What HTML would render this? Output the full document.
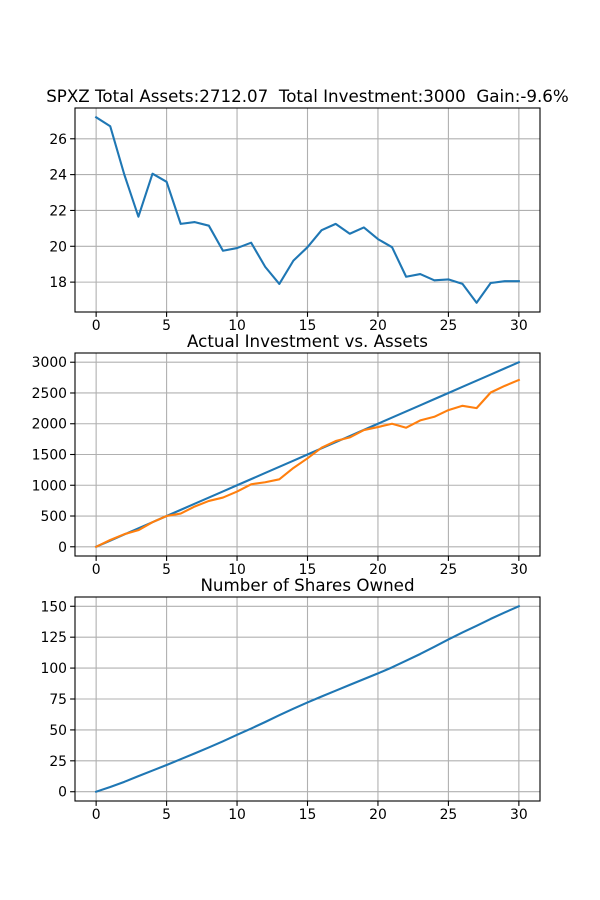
<!DOCTYPE html>
<html><head><meta charset="utf-8"><style>
body{margin:0;background:#fff}
svg{display:block;font-family:"DejaVu Sans","Liberation Sans",sans-serif}
</style></head><body>
<svg id="fig" width="600" height="900" viewBox="0 0 600 900" xmlns="http://www.w3.org/2000/svg"></svg>
<script>
const days = [0,1,2,3,4,5,6,7,8,9,10,11,12,13,14,15,16,17,18,19,20,21,22,23,24,25,26,27,28,29,30];
const price = [27.2,26.7,24.0,21.65,24.05,23.6,21.25,21.35,21.15,19.75,19.9,20.2,18.85,17.9,19.2,19.95,20.9,21.25,20.7,21.05,20.4,19.95,18.3,18.45,18.1,18.15,17.9,16.85,17.95,18.05,18.05];
const invested = [0,100,200,300,400,500,600,700,800,900,1000,1100,1200,1300,1400,1500,1600,1700,1800,1900,2000,2100,2200,2300,2400,2500,2600,2700,2800,2900,3000];
const assets = [0,110,205,270,400,500,540,655,745,800,897,1016,1049,1097,1281,1438,1611,1719,1778,1897,1946,2000,1935,2054,2113,2222,2292,2254,2508,2616,2712];
const shares = [0,3.8,8,12.6,17.1,21.6,26.3,31,35.8,40.8,46,51.1,56.4,61.9,67.2,72.2,77,81.7,86.4,91.1,95.7,100.6,106,111.4,117.2,123.2,128.8,134.2,139.8,145,150];
const xTicks = [0,5,10,15,20,25,30];
const y1Ticks = [18,20,22,24,26];
const y2Ticks = [0,500,1000,1500,2000,2500,3000];
const y3Ticks = [0,25,50,75,100,125,150];
const titles = ["SPXZ Total Assets:2712.07  Total Investment:3000  Gain:-9.6%","Actual Investment vs. Assets","Number of Shares Owned"];

const NS="http://www.w3.org/2000/svg";
const svg=document.getElementById('fig');
function mk(tag,attrs,parent){const e=document.createElementNS(NS,tag);for(const k in attrs)e.setAttribute(k,attrs[k]);(parent||svg).appendChild(e);return e;}
const L=75,R=540;
function lim(arrs){let mn=Infinity,mx=-Infinity;arrs.forEach(a=>a.forEach(v=>{mn=Math.min(mn,v);mx=Math.max(mx,v);}));const m=(mx-mn)*0.05;return [mn-m,mx+m];}
function axes(idx,top,bot,series,colors,yTicks,name){
  const g=mk('g',{});
  
  
  const [xmn,xmx]=lim([days]);
  const [ymn,ymx]=lim(series);
  const X=v=>L+(v-xmn)/(xmx-xmn)*(R-L);
  const Y=v=>bot-(v-ymn)/(ymx-ymn)*(bot-top);
  xTicks.forEach(t=>{
    const l=mk('line',{x1:X(t),x2:X(t),y1:top,y2:bot,stroke:'#b0b0b0','stroke-width':1.1},g);
    
    mk('line',{x1:X(t),x2:X(t),y1:bot,y2:bot+4.9,stroke:'#000','stroke-width':1.1},g);
    const tx=mk('text',{x:X(t),y:bot+18,'text-anchor':'middle','font-size':'13.9px',fill:'#000'},g);
    
    tx.textContent=t;
  });
  yTicks.forEach(t=>{
    const l=mk('line',{x1:L,x2:R,y1:Y(t),y2:Y(t),stroke:'#b0b0b0','stroke-width':1.1},g);
    
    mk('line',{x1:L-4.9,x2:L,y1:Y(t),y2:Y(t),stroke:'#000','stroke-width':1.1},g);
    const tx=mk('text',{x:L-8,y:Y(t)+5,'text-anchor':'end','font-size':'13.9px',fill:'#000'},g);
    
    tx.textContent=t;
  });
  series.forEach((s,i)=>{
    const p=mk('polyline',{points:s.map((v,j)=>X(days[j])+','+Y(v)).join(' '),fill:'none',stroke:colors[i],'stroke-width':2.1,'stroke-linejoin':'round','stroke-linecap':'square'},g);
    
  });
  const fr=mk('rect',{x:L,y:top,width:R-L,height:bot-top,fill:'none',stroke:'#000','stroke-width':1.1},g);
  
  const tt=mk('text',{x:(L+R)/2,y:top-6,'text-anchor':'middle','font-size':'16.7px',fill:'#000'},g);
  
  tt.setAttribute('xml:space','preserve');tt.style.whiteSpace='pre';
  tt.textContent=titles[idx];
}
axes(0,108,312,[price],['#1f77b4'],y1Ticks,'price-chart');
axes(1,353,556,[invested,assets],['#1f77b4','#ff7f0e'],y2Ticks,'investment-chart');
axes(2,597,801,[shares],['#1f77b4'],y3Ticks,'shares-chart');
</script>
</body></html>
